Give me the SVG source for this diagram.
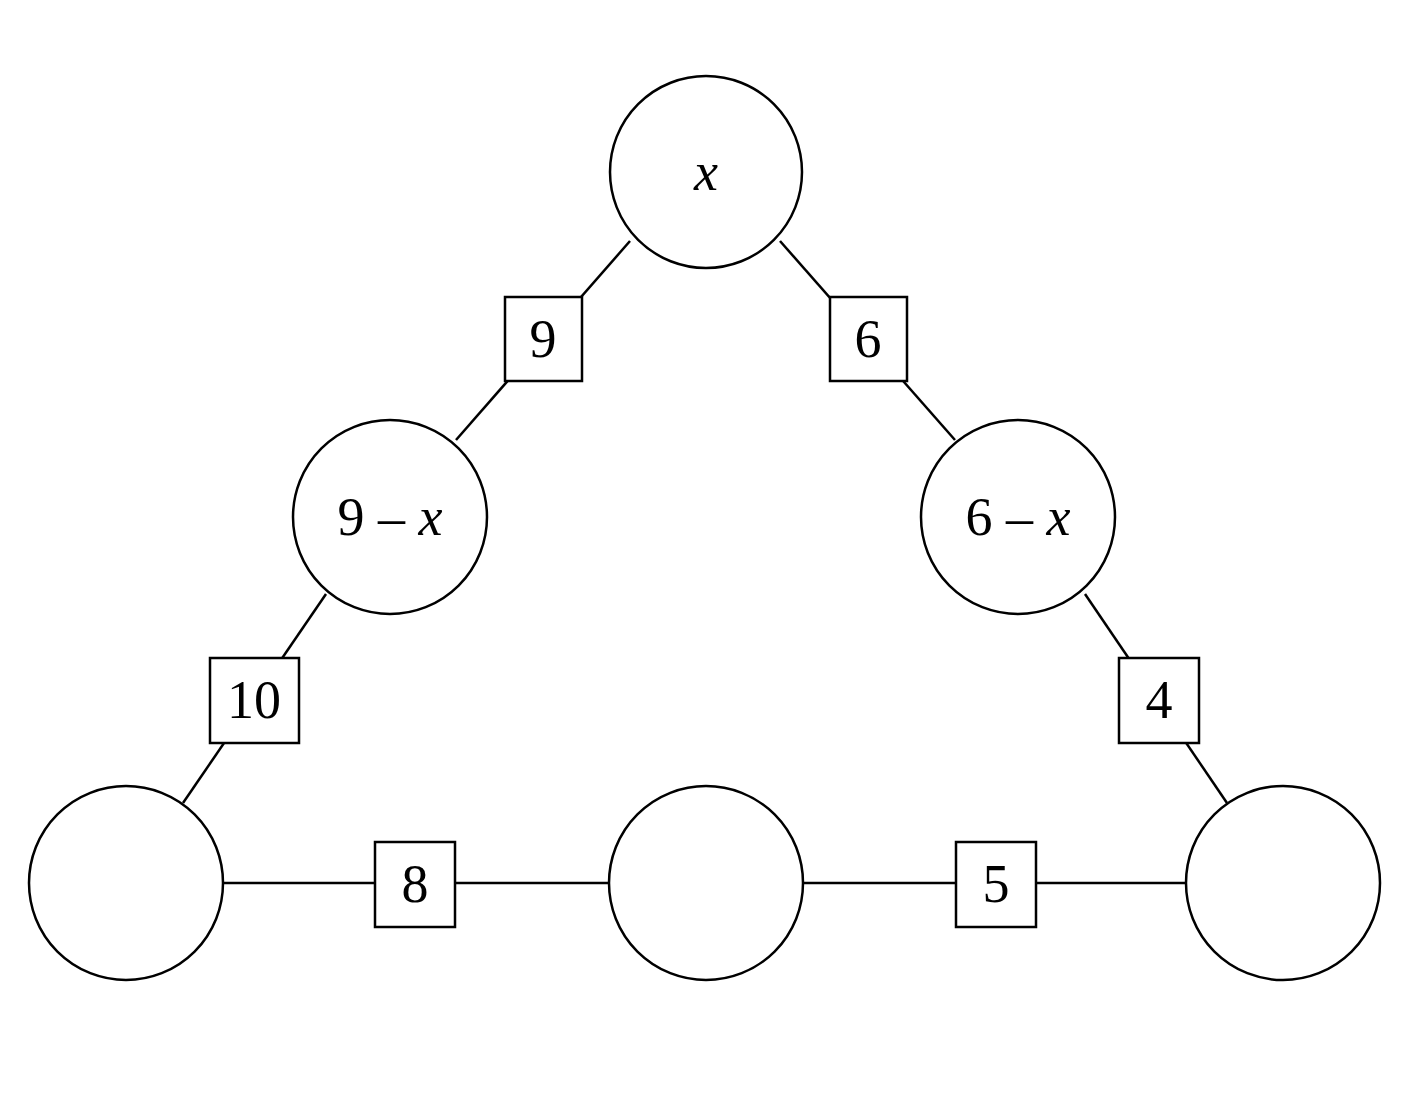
<svg xmlns="http://www.w3.org/2000/svg" width="1426" height="1103" viewBox="0 0 1426 1103">
<style>
.n{fill:#fff;stroke:#000;stroke-width:2.5}
.e{stroke:#000;stroke-width:2.5;fill:none}
text{font-family:"Liberation Serif","DejaVu Serif",serif;font-size:54px;text-anchor:middle;dominant-baseline:central}
.i{font-style:italic}
</style>
<rect width="1426" height="1103" fill="#fff"/>
<g id="connectors">
<line class="e" x1="630" y1="241" x2="456" y2="440"/>
<line class="e" x1="780" y1="241" x2="955" y2="440"/>
<line class="e" x1="326" y1="594" x2="183" y2="803"/>
<line class="e" x1="1085" y1="594" x2="1227" y2="803"/>
<line class="e" x1="222" y1="883" x2="610" y2="883"/>
<line class="e" x1="802" y1="883" x2="1187" y2="883"/>
</g>
<g id="n_top"><circle class="n" cx="706" cy="172" r="96"/><text x="706" y="172" class="i">x</text></g>
<g id="n_left"><circle class="n" cx="390" cy="517" r="97"/><text x="390" y="517">9 – <tspan class="i">x</tspan></text></g>
<g id="n_right"><circle class="n" cx="1018" cy="517" r="97"/><text x="1018" y="517">6 – <tspan class="i">x</tspan></text></g>
<g id="n_bl"><circle class="n" cx="126" cy="883" r="97"/></g>
<g id="n_bm"><circle class="n" cx="706" cy="883" r="97"/></g>
<g id="n_br"><circle class="n" cx="1283" cy="883" r="97"/></g>
<g id="b9"><rect class="n" x="505" y="297" width="77" height="84"/><text x="543" y="339">9</text></g>
<g id="b6"><rect class="n" x="830" y="297" width="77" height="84"/><text x="868" y="339">6</text></g>
<g id="b10"><rect class="n" x="210" y="658" width="89" height="85"/><text x="254" y="700">10</text></g>
<g id="b4"><rect class="n" x="1119" y="658" width="80" height="85"/><text x="1159" y="700">4</text></g>
<g id="b8"><rect class="n" x="375" y="842" width="80" height="85"/><text x="415" y="884">8</text></g>
<g id="b5"><rect class="n" x="956" y="842" width="80" height="85"/><text x="996" y="884">5</text></g>
</svg>
